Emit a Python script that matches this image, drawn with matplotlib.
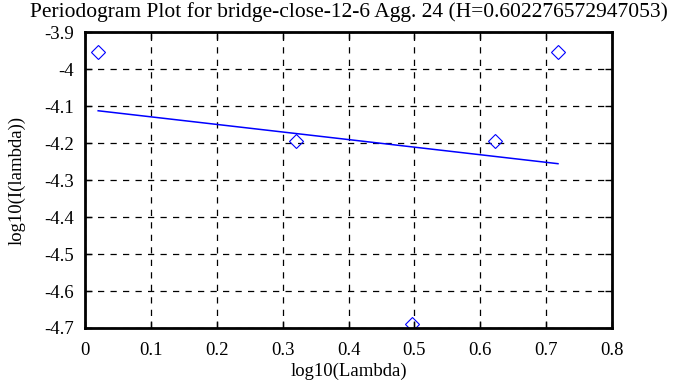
import matplotlib
matplotlib.use("Agg")
import matplotlib.pyplot as plt
import numpy as np

plt.rcParams['font.family'] = ['Liberation Serif', 'DejaVu Serif']

# periodogram points
logf = np.array([0.020, 0.320, 0.497, 0.622, 0.718])
logI = np.array([-3.955, -4.195, -4.690, -4.195, -3.955])
H = 0.602276572947053

# least squares fit line, as in the original
b, a = np.polyfit(logf, logI, 1)
xfit = np.array([logf.min(), logf.max()])
yfit = a + b*xfit

fig = plt.figure(figsize=(6.95, 3.87), dpi=100)
ax = fig.add_axes([85/695, 1-328/387, (612-85)/695, (328-32)/387])

ax.plot(logf, logI, linestyle='none', marker='D', markersize=7.5,
        markerfacecolor='none', markeredgecolor='blue', markeredgewidth=0.8)
ax.plot(xfit, yfit, color='blue', lw=1.1)

ax.set_xlim(0, 0.8)
ax.set_ylim(-4.7, -3.9)
ax.set_xticks(np.arange(0, 0.81, 0.1))
ax.set_xticklabels(['0', '0.1', '0.2', '0.3', '0.4', '0.5', '0.6', '0.7', '0.8'])
ax.set_yticks(np.arange(-4.7, -3.89, 0.1))
ax.set_yticklabels(['-4.7', '-4.6', '-4.5', '-4.4', '-4.3', '-4.2', '-4.1', '-4', '-3.9'])
ax.grid(True, color='black', linestyle=(0, (5, 5)), lw=0.9)
ax.tick_params(direction='in', top=True, right=True, length=5, width=1,
               labelsize=13.5)
ax.tick_params(axis='y', pad=8)
ax.tick_params(axis='x', pad=10)
for s in ax.spines.values():
    s.set_linewidth(2)

ax.set_xlabel('log10(Lambda)', fontsize=13.5, labelpad=3)
ax.set_ylabel('log10(I(lambda))', fontsize=13.5, labelpad=13)
ax.set_title('Periodogram Plot for bridge-close-12-6 Agg. 24 (H=%s)' % repr(H),
             fontsize=15.5, pad=11)

fig.savefig('out.png', dpi=100)
